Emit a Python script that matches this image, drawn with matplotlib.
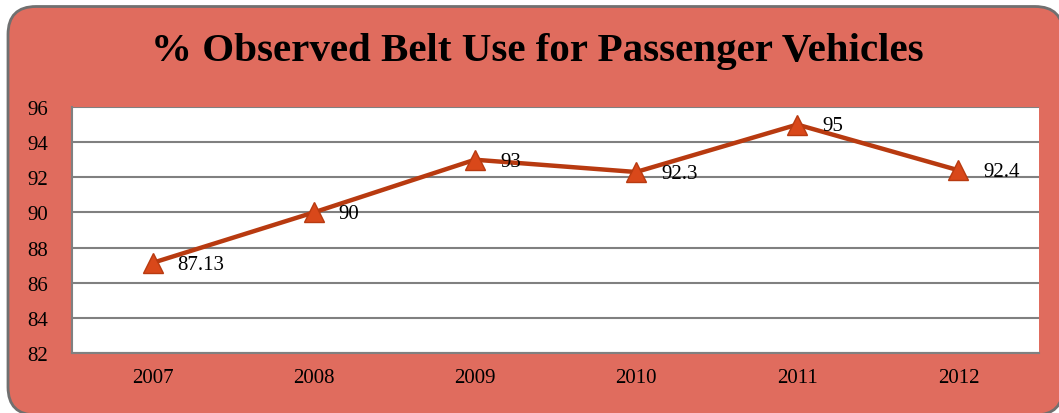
import matplotlib
matplotlib.use("Agg")
import matplotlib.pyplot as plt
from matplotlib.patches import FancyBboxPatch

years = ["2007", "2008", "2009", "2010", "2011", "2012"]
belt_use = [87.13, 90, 93, 92.3, 95, 92.4]
value_labels = ["87.13", "90", "93", "92.3", "95", "92.4"]
y_ticks = [82, 84, 86, 88, 90, 92, 94, 96]
title = "% Observed Belt Use for Passenger Vehicles"

W, H = 1059, 414
fig = plt.figure(figsize=(W / 100, H / 100), dpi=100)
fig.patch.set_facecolor("white")

bg = "#E06C5E"
bgax = fig.add_axes([0, 0, 1, 1], zorder=-5)
bgax.set_xlim(0, W)
bgax.set_ylim(H, 0)
bgax.axis("off")
panel = FancyBboxPatch((8, 7.5), 1063 - 8, 416 - 7.5,
                       boxstyle="round,pad=0,rounding_size=28",
                       facecolor=bg, edgecolor="#707070", linewidth=2)
bgax.add_patch(panel)

serif = ["Liberation Serif", "DejaVu Serif"]
fs = 15

ax = fig.add_axes([72 / W, (H - 354) / H, (1039 - 72) / W, (354 - 108) / H], zorder=1)
ax.set_facecolor("white")
x = list(range(len(years)))
ax.plot(x, belt_use, color="#B83A10", linewidth=3.2, marker="^", markersize=14,
        markerfacecolor="#D9481A", markeredgecolor="#B83A10", markeredgewidth=1,
        zorder=3, clip_on=False)
for xi, v, lab in zip(x, belt_use, value_labels):
    ax.annotate(lab, (xi, v), xytext=(18, -1), textcoords="offset points",
                ha="left", va="center", fontsize=fs, family=serif, color="black", zorder=4)

ax.set_xlim(-0.5, len(years) - 0.5)
ax.set_ylim(82, 96)
ax.set_yticks(y_ticks)
ax.set_yticklabels([str(t) for t in y_ticks], family=serif, fontsize=fs)
ax.set_xticks(x)
ax.set_xticklabels(years, family=serif, fontsize=fs)
ax.tick_params(axis="x", length=0, pad=11)
ax.tick_params(axis="y", length=0, pad=17)
ax.yaxis.grid(True, color="#808080", linewidth=1.5)
ax.set_axisbelow(True)
for s in ["top", "right"]:
    ax.spines[s].set_visible(False)
for s in ["left", "bottom"]:
    ax.spines[s].set_color("#808080")
    ax.spines[s].set_linewidth(1.5)

fig.text(537 / W, 1 - 51 / H, title, ha="center", va="center", fontsize=29.5,
         fontweight="bold", family=serif, color="black")

fig.savefig("out.png", dpi=100, facecolor=fig.get_facecolor())
